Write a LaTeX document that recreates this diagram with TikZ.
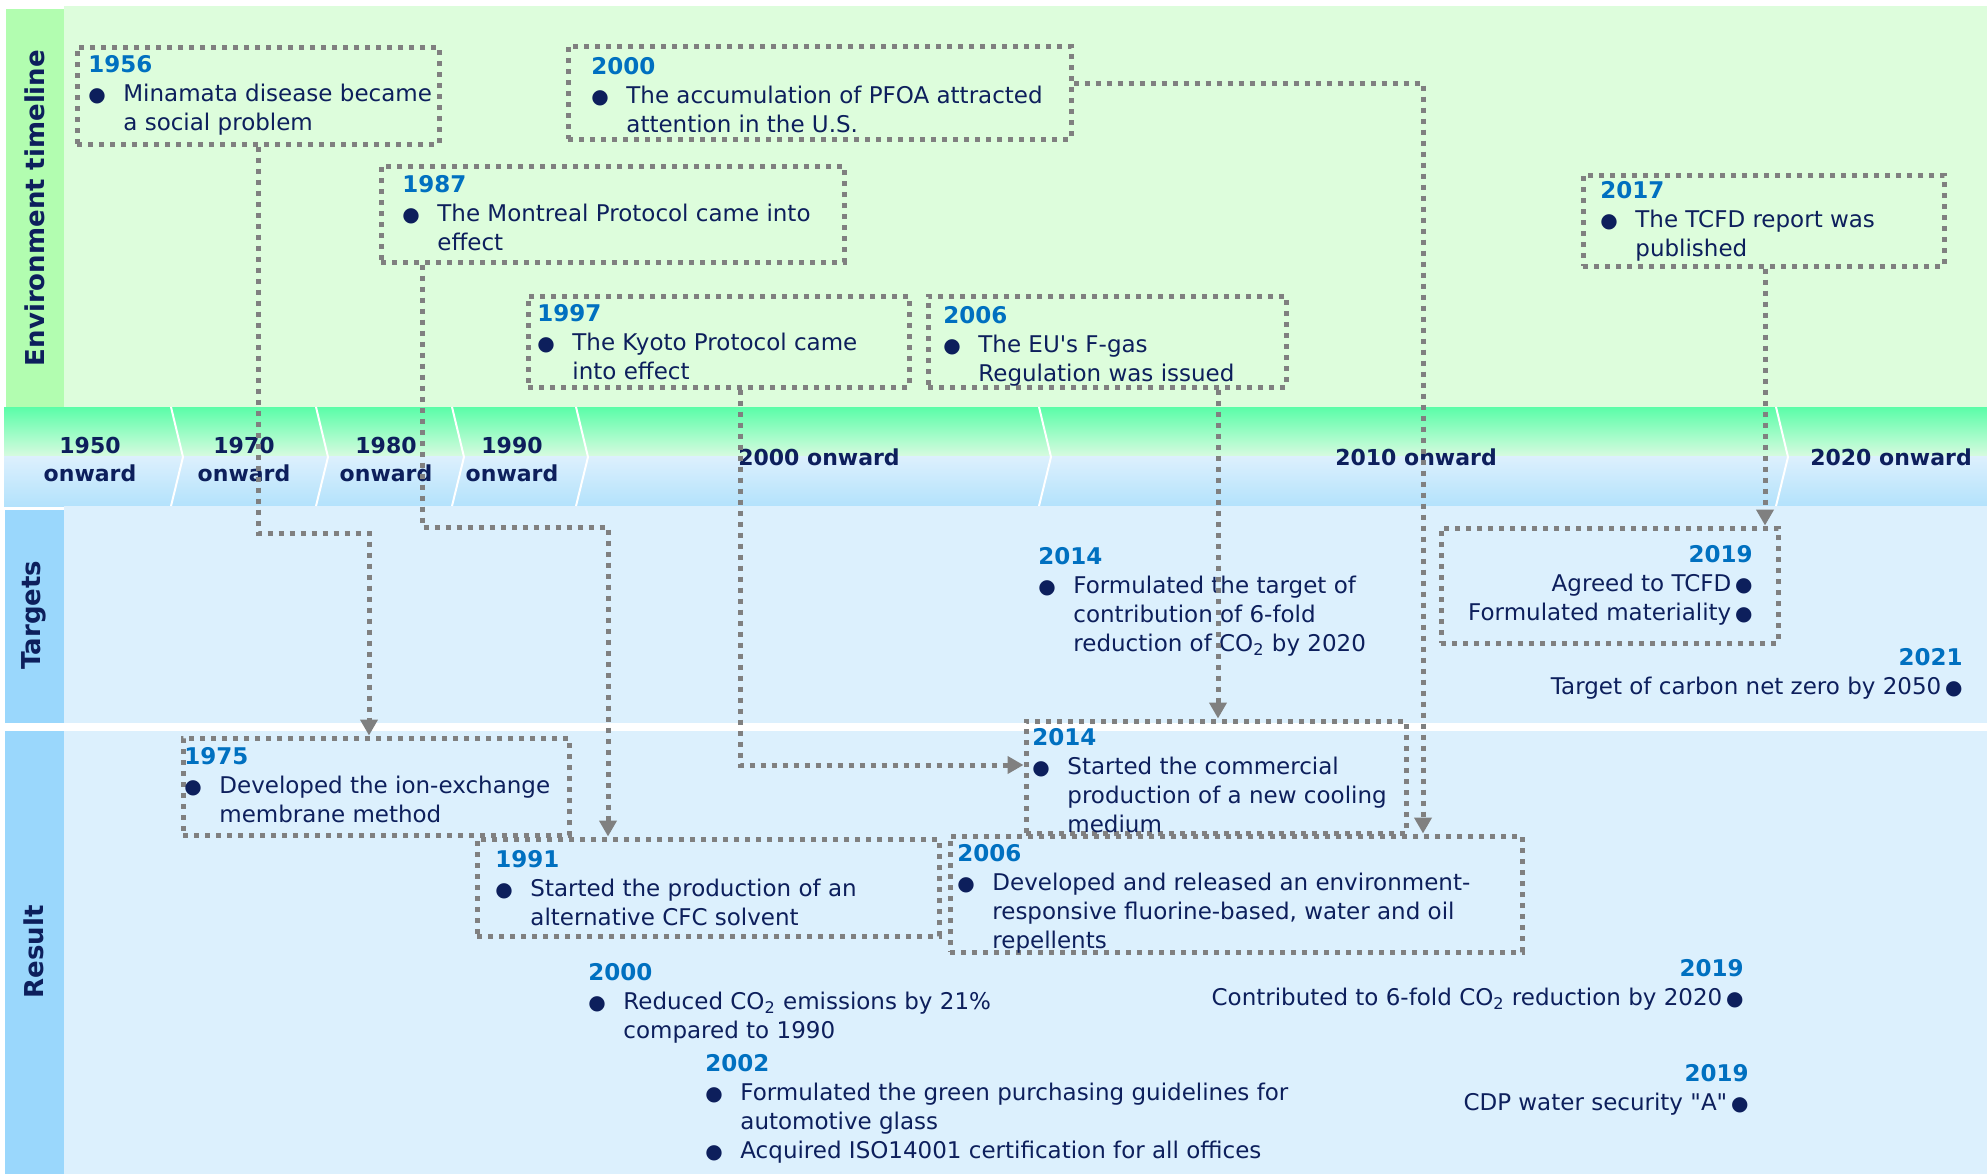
\documentclass[tikz,border=0pt]{standalone}
\usepackage{fontspec}
\setmainfont{DejaVu Sans}
\usepackage{xcolor}
\usepackage{tikz}
\usetikzlibrary{arrows.meta, fit}
\definecolor{navy}{HTML}{0D1F5C}
\definecolor{yearblue}{HTML}{0070C0}
\definecolor{envbg}{HTML}{DDFDDC}
\definecolor{envtab}{HTML}{B2FDB0}
\definecolor{bartop}{HTML}{5AFDA8}
\definecolor{barpale}{HTML}{D8FBE0}
\definecolor{barmid}{HTML}{DDF0FD}
\definecolor{barbot}{HTML}{B3E2FC}
\definecolor{tgtbg}{HTML}{DCF0FD}
\definecolor{tgttab}{HTML}{9AD7FC}
\definecolor{dotgray}{HTML}{808080}

% year heading, bullets and the hanging indent of the entries
\newcommand{\yr}[1]{{\bfseries\color{yearblue}#1}}
\newcommand{\bul}{\makebox[17.5pt][l]{{\fontsize{10pt}{10pt}\selectfont ●}}}
\newcommand{\lbul}{\,{\fontsize{10pt}{10pt}\selectfont ●}}
\newcommand{\ind}{\hspace*{17.5pt}}

\begin{document}
\begin{tikzpicture}[x=0.5pt, y=-0.5pt,
    evtbox/.style={draw=dotgray, line width=2.5pt, dash pattern=on 2.5pt off 3pt, inner sep=0pt},
    link/.style={draw=dotgray, line width=2.5pt, dash pattern=on 2.5pt off 3pt,
                 -{Triangle[length=8pt, width=8.5pt]}},
    evttxt/.style={anchor=north west, align=left, inner sep=0pt, text=navy,
                   font=\fontsize{11.5pt}{14.5pt}\selectfont},
    evtright/.style={evttxt, anchor=north east, align=right},
    period/.style={align=center, inner sep=0pt, text=navy, font=\fontsize{11pt}{14pt}\selectfont\bfseries},
    sidelabel/.style={rotate=90, inner sep=0pt, text=navy, font=\fontsize{13pt}{15pt}\selectfont\bfseries},
    sepline/.style={draw=white, line width=1pt}]
  \useasboundingbox (0,0) rectangle (1987,1174);

  % bands
  \fill[envbg] (64,6) rectangle (1987,407);
  \fill[envtab] (6,9) rectangle (64,407);
  \shade[top color=bartop, bottom color=barpale] (4,407) rectangle (1987,456.5);
  \shade[top color=barmid, bottom color=barbot] (4,456) rectangle (1987,506);
  \fill[tgtbg] (64,506) rectangle (1987,723);
  \fill[tgttab] (5,510) rectangle (64,723);
  \fill[tgtbg] (64,731) rectangle (1987,1174);
  \fill[tgttab] (5,731) rectangle (64,1174);

  % chevrons of the period bar
  \foreach \sx in {171,316,452,576,1039,1776}
    \draw[sepline] (\sx,407) -- (\sx+12,457) -- (\sx,506);

  \node[period] (p50) at (90,459) {1950\\onward};
  \node[period] (p70) at (244,459) {1970\\onward};
  \node[period] (p80) at (386,459) {1980\\onward};
  \node[period] (p90) at (512,459) {1990\\onward};
  \node[period] (p00) at (819,457) {2000 onward};
  \node[period] (p10) at (1416,457) {2010 onward};
  \node[period] (p20) at (1891,457) {2020 onward};

  \node[sidelabel] (labEnv) at (35,208) {Environment timeline};
  \node[sidelabel] (labTgt) at (34,615) {Targets};
  \node[sidelabel] (labRes) at (34,952) {Result};

  % environment timeline
  \node[evtbox, fit={(77,47) (439,144)}] (e56) {};
  \node[evttxt] (t56) at (88,55) {\yr{1956}\\\bul Minamata disease became\\\ind a social problem};
  \node[evtbox, fit={(381,166) (844,262)}] (e87) {};
  \node[evttxt] (t87) at (402,175) {\yr{1987}\\\bul The Montreal Protocol came into\\\ind effect};
  \node[evtbox, fit={(568,46) (1071,139)}] (e00) {};
  \node[evttxt] (t00) at (591,57) {\yr{2000}\\\bul The accumulation of PFOA attracted\\\ind attention in the U.S.};
  \node[evtbox, fit={(528,296) (909,387)}] (e97) {};
  \node[evttxt] (t97) at (537,304) {\yr{1997}\\\bul The Kyoto Protocol came\\\ind into effect};
  \node[evtbox, fit={(928,296) (1286,387)}] (ef06) {};
  \node[evttxt] (tf06) at (943,306) {\yr{2006}\\\bul The EU\textquotesingle s F-gas\\\ind Regulation was issued};
  \node[evtbox, fit={(1583,175) (1944,266)}] (e17) {};
  \node[evttxt] (t17) at (1600,181) {\yr{2017}\\\bul The TCFD report was\\\ind published};

  % targets
  \node[evttxt] (g14) at (1038,547) {\yr{2014}\\\bul Formulated the target of\\\ind contribution of 6-fold\\\ind reduction of CO\textsubscript{2} by 2020};
  \node[evtbox, fit={(1441,528) (1778,643)}] (g19box) {};
  \node[evtright] (g19) at (1753,545) {\yr{2019}\\Agreed to TCFD\lbul\\Formulated materiality\lbul};
  \node[evtright] (g21) at (1963,648) {\yr{2021}\\Target of carbon net zero by 2050\lbul};

  % results
  \node[evtbox, fit={(183,738) (569,835)}] (r75) {};
  \node[evttxt] (r75t) at (184,747) {\yr{1975}\\\bul Developed the ion-exchange\\\ind membrane method};
  \node[evtbox, fit={(477,839) (939,936)}] (r91) {};
  \node[evttxt] (r91t) at (495,850) {\yr{1991}\\\bul Started the production of an\\\ind alternative CFC solvent};
  \node[evttxt] (r00) at (588,963) {\yr{2000}\\\bul Reduced CO\textsubscript{2} emissions by 21\%\\\ind compared to 1990};
  \node[evttxt] (r02) at (705,1054) {\yr{2002}\\\bul Formulated the green purchasing guidelines for\\\ind automotive glass\\\bul Acquired ISO14001 certification for all offices};
  \node[evtbox, fit={(1026,721) (1406,833)}] (r14) {};
  \node[evttxt] (r14t) at (1032,728) {\yr{2014}\\\bul Started the commercial\\\ind production of a new cooling\\\ind medium};
  \node[evtbox, fit={(950,836) (1522,952)}] (r06) {};
  \node[evttxt] (r06t) at (957,844) {\yr{2006}\\\bul Developed and released an environment-\\\ind responsive fluorine-based, water and oil\\\ind repellents};
  \node[evtright] (r19a) at (1744,959) {\yr{2019}\\Contributed to 6-fold CO\textsubscript{2} reduction by 2020\lbul};
  \node[evtright] (r19b) at (1749,1064) {\yr{2019}\\CDP water security \textquotedbl A\textquotedbl\lbul};

  % links from events to what followed
  \coordinate (k56) at (369,533);
  \draw[link] (e56.south) |- (k56) -- (r75.north -| k56);
  \coordinate (k87a) at (422,527);
  \coordinate (k87b) at (608,527);
  \draw[link] (e87.south -| k87a) -- (k87a) -- (k87b) -- (r91.north -| k87b);
  \coordinate (k97) at (740,765);
  \draw[link] (e97.south -| k97) -- (k97) -- (r14.west |- k97);
  \coordinate (kf06) at (1218,600);
  \draw[link] (ef06.south -| kf06) -- (r14.north -| kf06);
  \coordinate (k00) at (1423,83);
  \draw[link] (e00.east |- k00) -- (k00) -- (r06.north -| k00);
  \coordinate (k17) at (1765,400);
  \draw[link] (e17.south -| k17) -- (g19box.north -| k17);
\end{tikzpicture}
\end{document}
